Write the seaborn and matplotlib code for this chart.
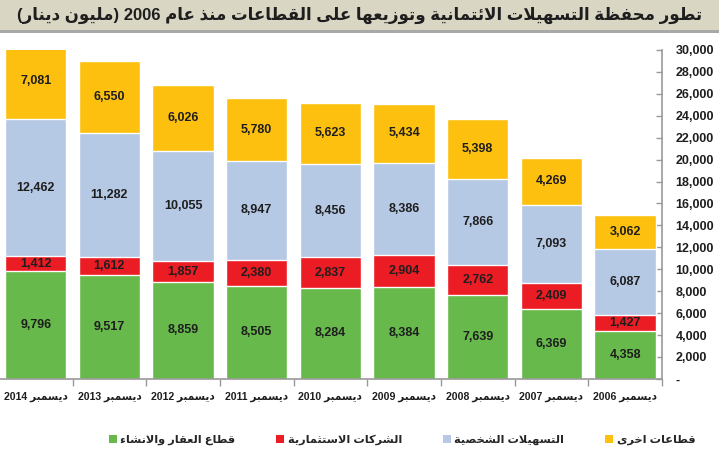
import re
import matplotlib
matplotlib.use("Agg")
import matplotlib.pyplot as plt
from matplotlib.patches import Patch, Rectangle
from matplotlib.ticker import FuncFormatter, FixedLocator
import seaborn as sns

# ---- data ----
years = ["2014", "2013", "2012", "2011", "2010", "2009", "2008", "2007", "2006"]
month = "ديسمبر"
real_estate = [9796, 9517, 8859, 8505, 8284, 8384, 7639, 6369, 4358]
investment = [1412, 1612, 1857, 2380, 2837, 2904, 2762, 2409, 1427]
personal = [12462, 11282, 10055, 8947, 8456, 8386, 7866, 7093, 6087]
other = [7081, 6550, 6026, 5780, 5623, 5434, 5398, 4269, 3062]

series_names = ["قطاع العقار والانشاء", "الشركات الاستثمارية", "التسهيلات الشخصية", "قطاعات اخرى"]
title = "تطور محفظة التسهيلات الائتمانية وتوزيعها على القطاعات منذ عام 2006 (مليون دينار)"

colors = ["#66B94A", "#EC1C24", "#B5C8E4", "#FDC00F"]

# ---- small arabic shaper (matplotlib draws glyphs one by one, LTR) ----
FORMS = {
    'ء': (0xFE80, 1), 'آ': (0xFE81, 2), 'أ': (0xFE83, 2), 'ؤ': (0xFE85, 2), 'إ': (0xFE87, 2),
    'ئ': (0xFE89, 4), 'ا': (0xFE8D, 2), 'ب': (0xFE8F, 4), 'ة': (0xFE93, 2), 'ت': (0xFE95, 4),
    'ث': (0xFE99, 4), 'ج': (0xFE9D, 4), 'ح': (0xFEA1, 4), 'خ': (0xFEA5, 4), 'د': (0xFEA9, 2),
    'ذ': (0xFEAB, 2), 'ر': (0xFEAD, 2), 'ز': (0xFEAF, 2), 'س': (0xFEB1, 4), 'ش': (0xFEB5, 4),
    'ص': (0xFEB9, 4), 'ض': (0xFEBD, 4), 'ط': (0xFEC1, 4), 'ظ': (0xFEC5, 4), 'ع': (0xFEC9, 4),
    'غ': (0xFECD, 4), 'ف': (0xFED1, 4), 'ق': (0xFED5, 4), 'ك': (0xFED9, 4), 'ل': (0xFEDD, 4),
    'م': (0xFEE1, 4), 'ن': (0xFEE5, 4), 'ه': (0xFEE9, 4), 'و': (0xFEED, 2), 'ى': (0xFEEF, 2),
    'ي': (0xFEF1, 4),
}
LAM_ALEF = {'ا': 0xFEFB, 'أ': 0xFEF7, 'إ': 0xFEF9, 'آ': 0xFEF5}


def shape(text):
    units = []
    i = 0
    while i < len(text):
        c = text[i]
        if c == 'ل' and i + 1 < len(text) and text[i + 1] in LAM_ALEF:
            units.append((LAM_ALEF[text[i + 1]], 2, True))
            i += 2
            continue
        if c in FORMS:
            units.append((*FORMS[c], True))
        else:
            units.append((c, 0, False))
        i += 1
    out = []
    for k, (base, n, ar) in enumerate(units):
        if not ar:
            out.append(base)
            continue
        prev_j = k > 0 and units[k - 1][2] and units[k - 1][1] == 4
        next_j = n == 4 and k + 1 < len(units) and units[k + 1][2] and units[k + 1][1] > 1
        if n == 1:
            form = 0
        elif prev_j and next_j:
            form = 3
        elif prev_j:
            form = 1
        elif next_j:
            form = 2
        else:
            form = 0
        out.append(chr(base + form))
    s = ''.join(out)[::-1]
    s = s.translate(str.maketrans('()', ')('))
    return re.sub(r'[0-9A-Za-z,.]+', lambda m: m.group(0)[::-1], s)


sns.set_style("white")
plt.rcParams['font.family'] = ['Liberation Sans', 'DejaVu Sans']
plt.rcParams['font.weight'] = 'bold'
ink = "#1e1e1e"

fig = plt.figure(figsize=(7.19, 4.5), dpi=100)
ax = fig.add_axes([-0.0015, 0.158, 0.922, 0.731])

# title band
fig.patches.append(Rectangle((0, 1 - 30 / 450), 1, 30 / 450, transform=fig.transFigure,
                             facecolor="#DAD6C4", edgecolor="none", zorder=0))
fig.patches.append(Rectangle((0, 1 - 33 / 450), 1, 3 / 450, transform=fig.transFigure,
                             facecolor="#A8A8A8", edgecolor="none", zorder=0))
fig.text(0.5, 1 - 15 / 450, shape(title), ha="center", va="center",
         fontsize=12, fontweight="bold", color=ink)

# stacked bars: draw cumulative totals from the top layer down
layers = [real_estate, investment, personal, other]
cum = []
run = [0] * len(years)
for vals in layers:
    run = [a + b for a, b in zip(run, vals)]
    cum.append(run)

for level in range(3, -1, -1):
    sns.barplot(x=years, y=cum[level], order=years, color=colors[level], saturation=1,
                width=0.83, ax=ax, zorder=2)

# segment labels
for level, vals in enumerate(layers):
    for i, v in enumerate(vals):
        bottom = cum[level][i] - v
        ax.text(i, bottom + v / 2, f"{v:,}", ha="center", va="center",
                fontsize=9, fontweight="bold", color=ink, zorder=3)

ax.set_ylim(0, 30000)
ax.set_xlim(-0.5, 8.5)
ax.set_xlabel("")
ax.set_ylabel("")

# y axis on the right
ax.yaxis.tick_right()
ax.set_yticks(range(0, 30001, 2000))
ax.yaxis.set_major_formatter(FuncFormatter(lambda v, p: "-" if v == 0 else f"{int(v):,}"))
ax.tick_params(axis="y", direction="in", length=4, width=1, color="#999999", pad=10,
               labelsize=9, labelcolor=ink, right=True, left=False)
for lbl in ax.get_yticklabels():
    lbl.set_horizontalalignment("left")
    lbl.set_fontweight("bold")

# x axis: labels under bars, ticks between categories
ax.set_xticks(range(len(years)))
ax.set_xticklabels([shape(f"{month} {y}") for y in years], fontsize=7.6, fontweight="bold", color=ink)
ax.xaxis.set_minor_locator(FixedLocator([i + 0.5 for i in range(len(years))]))
ax.tick_params(axis="x", which="major", length=0, pad=9)
ax.tick_params(axis="x", which="minor", direction="out", length=5, width=1, color="#999999", bottom=True)

for side in ["top", "left"]:
    ax.spines[side].set_visible(False)
for side in ["right", "bottom"]:
    ax.spines[side].set_visible(True)
    ax.spines[side].set_color("#999999")
    ax.spines[side].set_linewidth(1.2)
ax.grid(False)

handles = [Patch(facecolor=c, edgecolor="none") for c in colors]
fig.legend(handles, [shape(n) for n in series_names], loc="center", ncol=4,
           bbox_to_anchor=(402 / 719, 1 - 440 / 450), frameon=False,
           handlelength=0.7, handleheight=0.7, handletextpad=0.3, columnspacing=3.6,
           prop={"size": 8.2, "weight": "bold"})

fig.savefig("out.png", dpi=100, facecolor="white")
